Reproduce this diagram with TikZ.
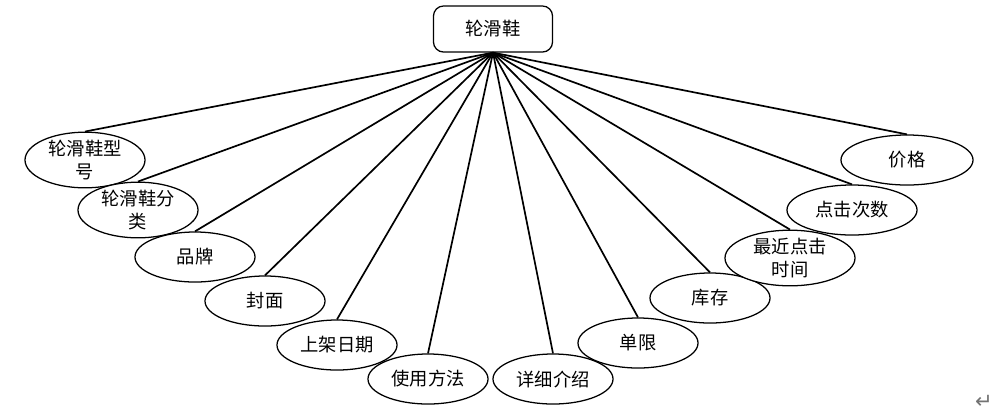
\documentclass[tikz,border=0pt]{standalone}
\usepackage{fontspec}
\newfontfamily\cjk{Noto Sans CJK SC}
\newfontfamily\symfont{DejaVu Sans}
\usetikzlibrary{shapes.geometric}

\begin{document}
\begin{tikzpicture}[x=0.025cm, y=-0.025cm,
	attr/.style={draw, ellipse, fill=white, line width=0.9pt, minimum width=3cm, minimum height=1.25cm, inner sep=0pt, align=center, font=\cjk\fontsize{13}{16}\selectfont},
	entity/.style={draw, rounded corners=0.25cm, line width=0.9pt, minimum width=2.975cm, minimum height=1.15cm, font=\cjk\fontsize{13}{16}\selectfont},
	link/.style={line width=1.2pt}]
	\useasboundingbox (0,0) rectangle (1005,416);

	\node[entity] (shoe) at (493,29) {轮滑鞋};

	\node[attr] (model) at (85,160) {轮滑鞋型\\号};
	\node[attr] (kind) at (138,210) {轮滑鞋分\\类};
	\node[attr] (brand) at (195,257) {品牌};
	\node[attr] (cover) at (265,301) {封面};
	\node[attr] (shelf) at (337,345) {上架日期};
	\node[attr] (usage) at (428,379) {使用方法};
	\node[attr] (detail) at (553,379) {详细介绍};
	\node[attr] (limit) at (638,343) {单限};
	\node[attr] (stock) at (710,298) {库存};
	\node[attr, minimum width=3.25cm] (lastclick) at (790,258) {最近点击\\时间};
	\node[attr, minimum width=3.25cm] (clicks) at (852,210) {点击次数};
	\node[attr, minimum width=3.3cm] (price) at (907,160) {价格};

	\foreach \a in {model,kind,brand,cover,shelf,usage,detail,limit,stock,lastclick,clicks,price}
		\draw[link] (shoe.south) -- (\a.north);

	\node[text=black!55, font=\symfont\fontsize{15}{17}\selectfont] (mark) at (984,402) {↵};
\end{tikzpicture}
\end{document}
